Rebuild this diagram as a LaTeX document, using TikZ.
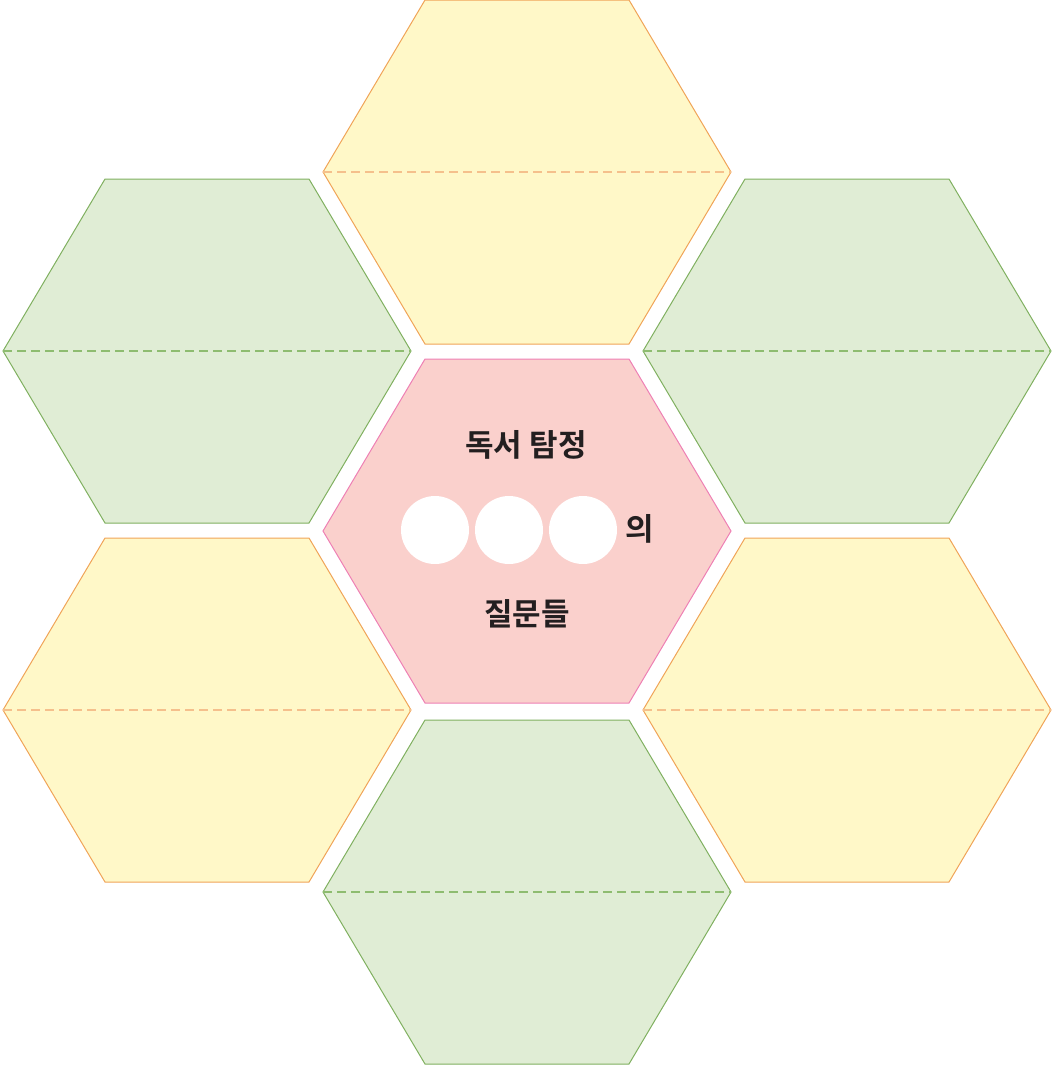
\documentclass[tikz,border=0pt]{standalone}
\usepackage{fontspec}
\newfontfamily\kr{Noto Sans CJK KR}[BoldFont={* Bold}]
\definecolor{yfill}{HTML}{FFF8C8}
\definecolor{ystroke}{HTML}{F0A458}
\definecolor{ydash}{HTML}{F5C08C}
\definecolor{gfill}{HTML}{E0EDD5}
\definecolor{gstroke}{HTML}{80B060}
\definecolor{gdash}{HTML}{8EBC70}
\definecolor{pfill}{HTML}{FAD0CC}
\definecolor{pstroke}{HTML}{EE80B4}
\definecolor{txt}{HTML}{231F20}
\tikzset{
  yhex/.style={fill=yfill,draw=ystroke,line width=1pt},
  ghex/.style={fill=gfill,draw=gstroke,line width=1pt},
  phex/.style={fill=pfill,draw=pstroke,line width=1pt},
  ymid/.style={draw=ydash,line width=1.2pt,dash pattern=on 9pt off 5pt},
  gmid/.style={draw=gdash,line width=1.2pt,dash pattern=on 9pt off 5pt},
  lbl/.style={text=txt,font=\kr\bfseries\fontsize{31}{35}\selectfont,inner sep=0pt},
  dot/.style={circle,fill=white,minimum size=68pt,inner sep=0pt}
}
\newcommand\hexpath[2]{(#1-204,#2) -- (#1-102,#2-172) -- (#1+102,#2-172) -- (#1+204,#2) -- (#1+102,#2+172) -- (#1-102,#2+172) -- cycle}
\begin{document}
\begin{tikzpicture}[x=1pt,y=-1pt]
\useasboundingbox (0,0) rectangle (1053,1069);
% hexagons
\path[yhex] \hexpath{527}{172};
\draw[ymid] (323,172) -- (731,172);
\path[ghex] \hexpath{207}{351};
\draw[gmid] (3,351) -- (411,351);
\path[ghex] \hexpath{847}{351};
\draw[gmid] (643,351) -- (1051,351);
\path[phex] \hexpath{527}{531};
\path[yhex] \hexpath{207}{710};
\draw[ymid] (3,710) -- (411,710);
\path[yhex] \hexpath{847}{710};
\draw[ymid] (643,710) -- (1051,710);
\path[ghex] \hexpath{527}{892};
\draw[gmid] (323,892) -- (731,892);
% center content
\node[lbl] (title) at (526,445) {독서 탐정};
\node[dot] (c1) at (435,530) {};
\node[dot] (c2) at (509,530) {};
\node[dot] (c3) at (583,530) {};
\node[lbl] (ui) at (640,529) {의};
\node[lbl] (q) at (527,614) {질문들};
\end{tikzpicture}
\end{document}
